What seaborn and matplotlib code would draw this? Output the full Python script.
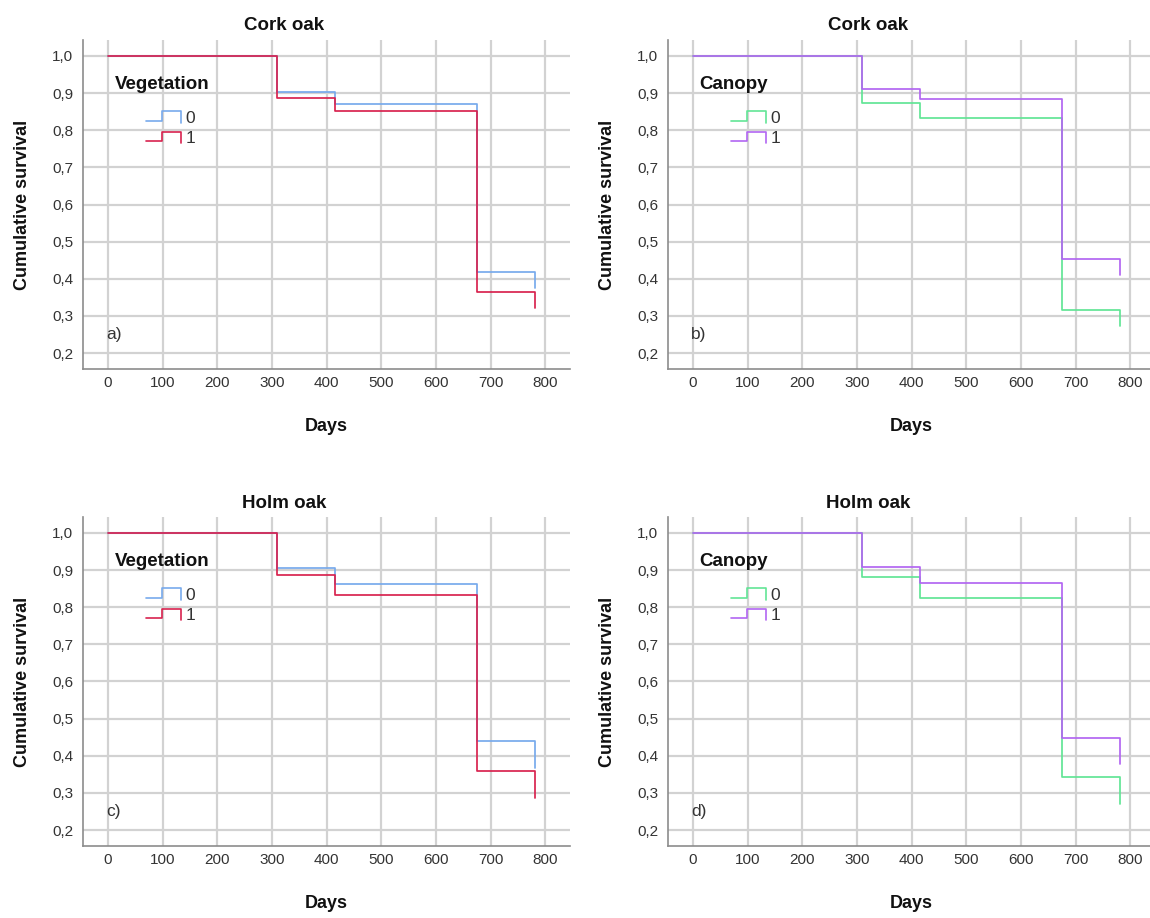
import numpy as np
import pandas as pd
import seaborn as sns
import matplotlib
matplotlib.use("Agg")
import matplotlib.pyplot as plt
from matplotlib.lines import Line2D
from matplotlib.legend_handler import HandlerBase
from matplotlib.ticker import FuncFormatter

# Kaplan-Meier step estimates (event days and survival after each event)
days = [0, 310, 415, 675, 781, 781]

cork_veg0 = [1.0, 0.903, 0.871, 0.419, 0.419, 0.374]
cork_veg1 = [1.0, 0.887, 0.853, 0.365, 0.365, 0.320]
cork_can0 = [1.0, 0.873, 0.832, 0.316, 0.316, 0.272]
cork_can1 = [1.0, 0.911, 0.884, 0.453, 0.453, 0.410]
holm_veg0 = [1.0, 0.906, 0.863, 0.439, 0.439, 0.366]
holm_veg1 = [1.0, 0.886, 0.834, 0.358, 0.358, 0.285]
holm_can0 = [1.0, 0.882, 0.826, 0.342, 0.342, 0.270]
holm_can1 = [1.0, 0.909, 0.865, 0.449, 0.449, 0.377]

group_levels = ["0", "1"]
x_ticks = [0, 100, 200, 300, 400, 500, 600, 700, 800]
y_ticks = [0.2, 0.3, 0.4, 0.5, 0.6, 0.7, 0.8, 0.9, 1.0]

veg_colors = {"0": "#78aaec", "1": "#d8234f"}
can_colors = {"0": "#62e596", "1": "#b266f2"}

panels = [
    ("Cork oak", "Vegetation", cork_veg0, cork_veg1, veg_colors, "a)"),
    ("Cork oak", "Canopy", cork_can0, cork_can1, can_colors, "b)"),
    ("Holm oak", "Vegetation", holm_veg0, holm_veg1, veg_colors, "c)"),
    ("Holm oak", "Canopy", holm_can0, holm_can1, can_colors, "d)"),
]

sns.set_style("white")
plt.rcParams["font.family"] = ["Liberation Sans", "DejaVu Sans"]

W, H = 1150, 918
fig = plt.figure(figsize=(W / 100, H / 100), dpi=100)

# axes boxes in pixels: left, top, width, height
boxes = [(83, 40, 487, 329), (668, 40, 487, 329),
         (83, 517, 487, 329), (668, 517, 487, 329)]
title_x = [284, 868, 284, 868]
title_y = [25, 25, 503, 503]


class StepHandler(HandlerBase):
    def create_artists(self, legend, orig_handle, xdescent, ydescent,
                       width, height, fontsize, trans):
        x0 = -xdescent
        y0 = -ydescent
        xs = [x0, x0 + 0.45 * width, x0 + 0.45 * width, x0 + width, x0 + width]
        ys = [y0 + 0.15 * height, y0 + 0.15 * height, y0 + 0.95 * height,
              y0 + 0.95 * height, y0 + 0.0 * height]
        line = Line2D(xs, ys, color=orig_handle.get_color(), lw=1.2,
                      transform=trans)
        return [line]


comma = FuncFormatter(lambda v, p: f"{v:.1f}".replace(".", ","))

for i, (species, factor, s0, s1, colors, tag) in enumerate(panels):
    l, t, w, h = boxes[i]
    ax = fig.add_axes([l / W, 1 - (t + h) / H, w / W, h / H])
    df = pd.DataFrame({
        "Days": days * 2,
        "Survival": s0 + s1,
        "group": [group_levels[0]] * len(days) + [group_levels[1]] * len(days),
    })
    sns.lineplot(data=df, x="Days", y="Survival", hue="group",
                 hue_order=group_levels, palette=colors, estimator=None,
                 sort=False, drawstyle="steps-post", lw=1.25, legend=False,
                 ax=ax)
    ax.set_xlim(-45.7, 845)
    ax.set_ylim(0.157, 1.043)
    ax.set_xticks(x_ticks)
    ax.set_yticks(y_ticks)
    ax.yaxis.set_major_formatter(comma)
    ax.grid(True, color="#d2d2d2", lw=1.6)
    ax.set_axisbelow(True)
    for side in ("top", "right"):
        ax.spines[side].set_visible(False)
    for side in ("left", "bottom"):
        ax.spines[side].set_color("#8c8c8c")
        ax.spines[side].set_linewidth(1.2)
    ax.tick_params(length=0, labelsize=11, colors="#333333")
    ax.tick_params(axis="x", pad=5)
    ax.tick_params(axis="y", pad=7)
    ax.set_xlabel("Days", fontsize=13, fontweight="bold", labelpad=20,
                  color="#111111")
    ax.set_ylabel("Cumulative survival", fontsize=13, fontweight="bold",
                  labelpad=15, color="#111111")

    ax.text(-3, 0.25, tag, fontsize=12.5, va="center", ha="left",
            color="#333333")
    ax.text(12, 0.922, factor, fontsize=13.5, fontweight="bold",
            va="center", ha="left", color="#111111")
    handles = [Line2D([], [], color=colors[g]) for g in group_levels]
    ax.legend(handles, group_levels, handler_map={Line2D: StepHandler()},
              loc="upper left", bbox_to_anchor=(70, 0.853),
              bbox_transform=ax.transData, frameon=False, borderpad=0,
              borderaxespad=0, handlelength=2.0, handletextpad=0.25,
              labelspacing=0.3, fontsize=12.5, labelcolor="#333333")

    fig.text(title_x[i] / W, 1 - title_y[i] / H, species, fontsize=13.5,
             fontweight="bold", ha="center", va="center", color="#111111")

fig.savefig("out.png", dpi=100)
